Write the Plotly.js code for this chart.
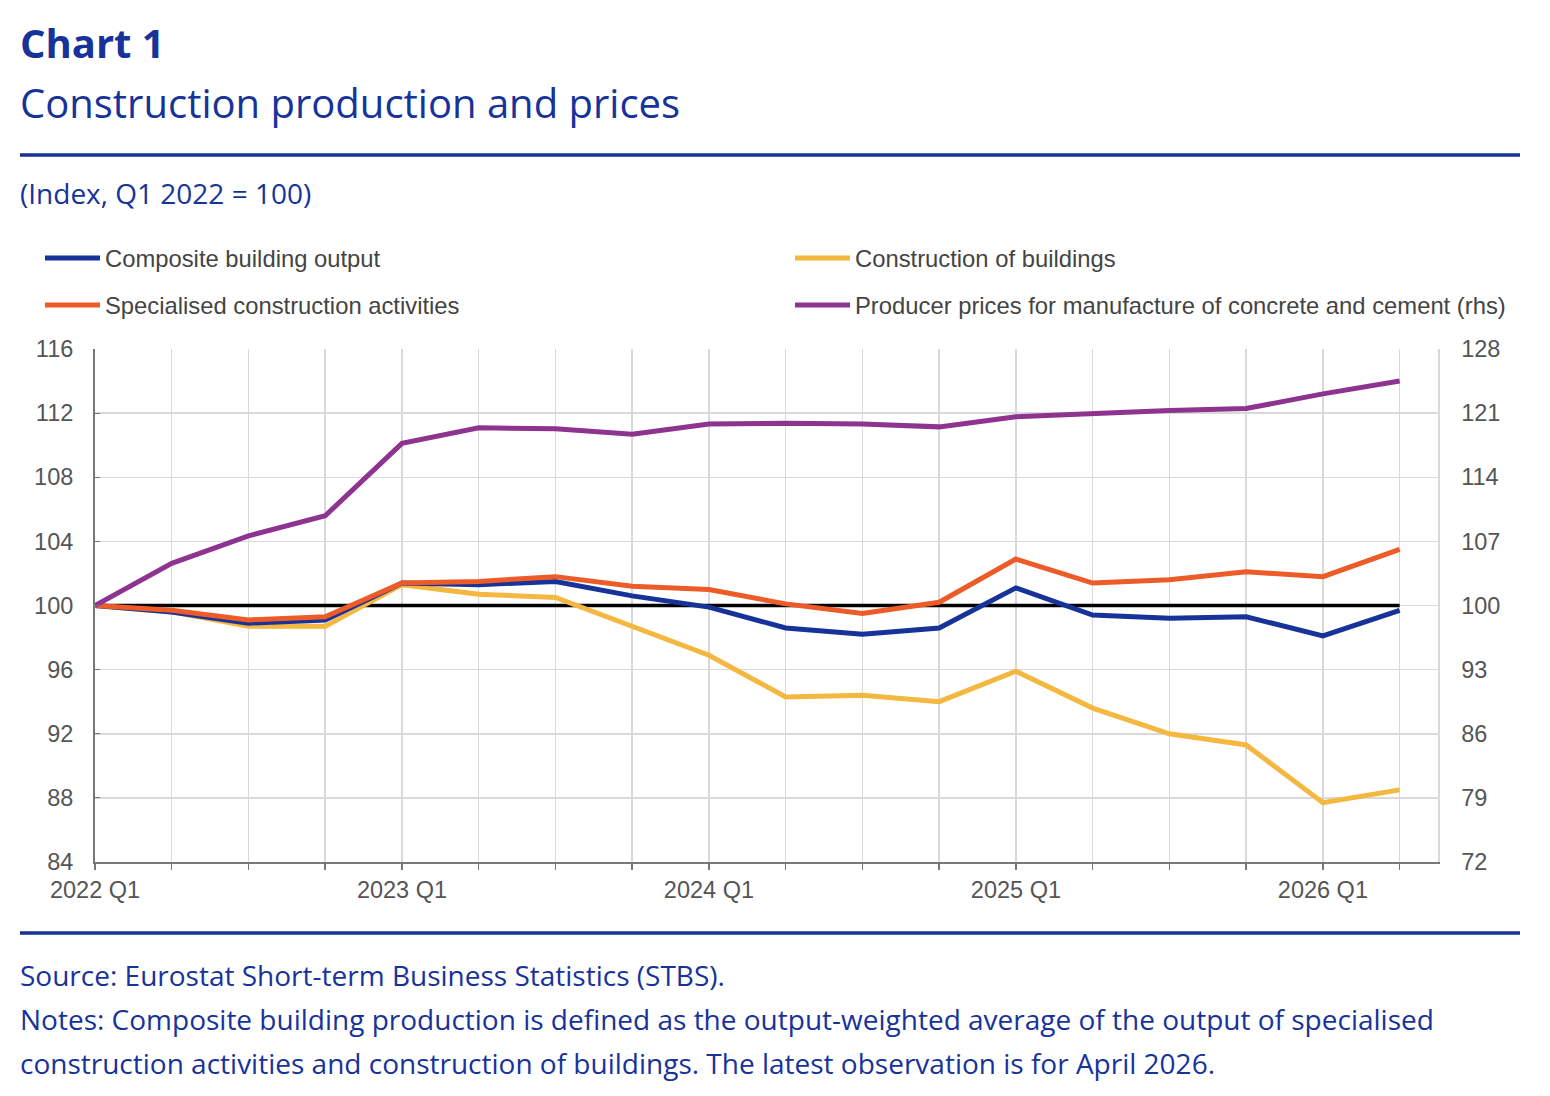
<!DOCTYPE html>
<html>
<head>
<meta charset="utf-8">
<script src="https://cdn.plot.ly/plotly-3.0.1.min.js"></script>
<style>
  html, body { margin: 0; padding: 0; background: #ffffff; }
  #chartDiv { width: 1550px; height: 1096px; }
</style>
</head>
<body>
<div id="chartDiv"></div>
<script>
"use strict";

// quarterly index, Q1 2022 = 100
const quarters = ["2022 Q1", "2022 Q2", "2022 Q3", "2022 Q4",
    "2023 Q1", "2023 Q2", "2023 Q3", "2023 Q4",
    "2024 Q1", "2024 Q2", "2024 Q3", "2024 Q4",
    "2025 Q1", "2025 Q2", "2025 Q3", "2025 Q4",
    "2026 Q1", "2026 Q2"];
const compositeOutput = [100, 99.6, 98.9, 99.1, 101.4, 101.3, 101.5, 100.6, 99.9, 98.6, 98.2, 98.6, 101.1, 99.4, 99.2, 99.3, 98.1, 99.7];
const buildingsOutput = [100, 99.6, 98.7, 98.7, 101.3, 100.7, 100.5, 98.7, 96.9, 94.3, 94.4, 94.0, 95.9, 93.6, 92.0, 91.3, 87.7, 88.5];
const specialisedOutput = [100, 99.7, 99.1, 99.3, 101.4, 101.5, 101.8, 101.2, 101.0, 100.1, 99.5, 100.2, 102.9, 101.4, 101.6, 102.1, 101.8, 103.5];
const concretePrices = [100, 104.6, 107.6, 109.8, 117.7, 119.4, 119.3, 118.7, 119.8, 119.9, 119.8, 119.5, 120.6, 121.0, 121.3, 121.5, 123.1, 124.5];
const baseLine = [100, 100, 100, 100, 100, 100, 100, 100, 100, 100, 100, 100, 100, 100, 100, 100, 100, 100];
const tickText = quarters.map(function (q) { return q.endsWith("Q1") ? q : ""; });

const ecbBlue = "#17339a";
const textFont = "Open Sans, Noto Sans, sans-serif";
const axisFont = "Liberation Sans, Arial, sans-serif";

// plot area in page pixels
const plotLeft = 95, plotRight = 1438, plotTop = 349, plotBottom = 862;
function px(x) { return (x - plotLeft) / (plotRight - plotLeft); }
function py(y) { return (plotBottom - y) / (plotBottom - plotTop); }

const traces = [
    {
        x: quarters, y: baseLine, type: "scatter", mode: "lines",
        line: { color: "#000000", width: 3.5 }, showlegend: false, hoverinfo: "skip"
    },
    {
        x: quarters, y: buildingsOutput, type: "scatter", mode: "lines",
        name: "Construction of buildings", legend: "legend2",
        line: { color: "#f4b73f", width: 5 }
    },
    {
        x: quarters, y: compositeOutput, type: "scatter", mode: "lines",
        name: "Composite building output", legend: "legend",
        line: { color: "#17339a", width: 5 }
    },
    {
        x: quarters, y: specialisedOutput, type: "scatter", mode: "lines",
        name: "Specialised construction activities", legend: "legend3",
        line: { color: "#ec5b28", width: 5 }
    },
    {
        x: quarters, y: concretePrices, type: "scatter", mode: "lines", yaxis: "y2",
        name: "Producer prices for manufacture of concrete and cement (rhs)", legend: "legend4",
        line: { color: "#8e3490", width: 5 }
    }
];

function legendAt(x, y) {
    return {
        orientation: "h",
        xref: "paper", yref: "paper",
        xanchor: "left", yanchor: "middle",
        x: px(x), y: py(y),
        itemwidth: 55,
        font: { family: axisFont, size: 23.8, color: "#444444" },
        bgcolor: "rgba(0,0,0,0)"
    };
}

const layout = {
    width: 1550,
    height: 1096,
    margin: { l: plotLeft, r: 1550 - plotRight, t: plotTop, b: 1096 - plotBottom },
    paper_bgcolor: "#ffffff",
    plot_bgcolor: "#ffffff",
    showlegend: true,
    legend: legendAt(40, 258),
    legend2: legendAt(790, 258),
    legend3: legendAt(40, 305),
    legend4: legendAt(790, 305),
    xaxis: {
        type: "category",
        range: [0, 17.5],
        tickmode: "array",
        tickvals: quarters,
        ticktext: tickText,
        ticks: "outside", ticklen: 6, tickwidth: 1.5, tickcolor: "#777777",
        showline: true, linecolor: "#777777", linewidth: 2,
        showgrid: true, gridcolor: "#d9d9d9", gridwidth: 1.5,
        tickfont: { family: axisFont, size: 23.5, color: "#555555" },
        zeroline: false, fixedrange: true
    },
    yaxis: {
        range: [84, 116], dtick: 4, tick0: 84,
        ticks: "inside", ticklen: 5, tickcolor: "#777777",
        showline: true, linecolor: "#777777", linewidth: 2,
        showgrid: true, gridcolor: "#d9d9d9", gridwidth: 1.5,
        tickfont: { family: axisFont, size: 23.5, color: "#555555" },
        ticklabelstandoff: 15,
        zeroline: false, fixedrange: true
    },
    yaxis2: {
        overlaying: "y", side: "right",
        range: [72, 128], dtick: 7, tick0: 72,
        ticks: "", showgrid: false,
        showline: true, linecolor: "#d9d9d9", linewidth: 1.5,
        tickfont: { family: axisFont, size: 23.5, color: "#555555" },
        ticklabelstandoff: 17,
        zeroline: false, fixedrange: true
    },
    shapes: [
        { type: "line", xref: "paper", yref: "paper", x0: px(20), x1: px(1520), y0: py(155), y1: py(155),
          line: { color: ecbBlue, width: 3.5 } },
        { type: "line", xref: "paper", yref: "paper", x0: px(20), x1: px(1520), y0: py(933), y1: py(933),
          line: { color: ecbBlue, width: 3.5 } }
    ],
    annotations: [
        { text: "<b>Chart 1</b>", x: px(18), y: py(43), size: 40 },
        { text: "Construction production and prices", x: px(18), y: py(103), size: 40 },
        { text: "(Index, Q1 2022 = 100)", x: px(18), y: py(193) },
        { text: "Source: Eurostat Short-term Business Statistics (STBS).", x: px(18), y: py(975) },
        { text: "Notes: Composite building production is defined as the output-weighted average of the output of specialised", x: px(18), y: py(1019) },
        { text: "construction activities and construction of buildings. The latest observation is for April 2026.", x: px(18), y: py(1063) }
    ].map(function (a) {
        return {
            text: a.text, x: a.x, y: a.y, xref: "paper", yref: "paper",
            xanchor: "left", yanchor: "middle", showarrow: false, align: "left",
            font: { family: textFont, size: a.size || 28, color: ecbBlue }
        };
    })
};

Plotly.newPlot("chartDiv", traces, layout, { displayModeBar: false, staticPlot: true });
</script>
</body>
</html>
